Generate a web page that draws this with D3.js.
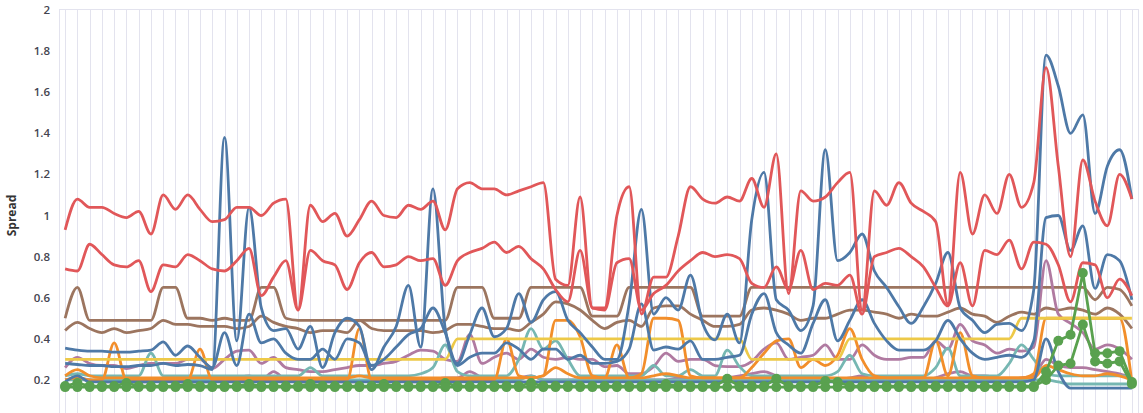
<!DOCTYPE html>
<html lang="en">
<head>
<meta charset="utf-8">
<script src="https://d3js.org/d3.v7.min.js"></script>
<style>
  html, body { margin: 0; padding: 0; background: #fff; }
  svg { display: block; font-family: "Open Sans", sans-serif; }
  .tick-label { font-size: 11.5px; font-weight: 600; fill: #44444f; }
  .y-title { font-size: 12px; font-weight: 700; fill: #333; }
</style>
</head>
<body>
<script>
// 88 time slots, no labels shown on the x axis
var categories = d3.range(88);

var yTicks = [0.2, 0.4, 0.6, 0.8, 1, 1.2, 1.4, 1.6, 1.8, 2];
var yTickLabels = ["0.2", "0.4", "0.6", "0.8", "1", "1.2", "1.4", "1.6", "1.8", "2"];

var red1 = [
  0.93,1.08,1.04,1.04,1.01,0.99,1.02,0.91,1.10,1.03,
  1.10,1.03,0.97,0.98,1.04,1.04,1.00,1.06,1.08,0.54,
  1.05,0.97,1.01,0.90,0.98,1.07,1.00,0.99,1.05,1.03,
  1.07,0.93,1.13,1.16,1.13,1.13,1.10,1.12,1.14,1.16,
  0.69,0.66,1.09,0.55,0.55,1.00,1.14,0.52,0.70,0.70,
  0.90,1.14,1.08,1.06,1.09,1.07,1.18,1.04,1.30,0.62,
  1.12,1.07,1.09,1.16,1.21,0.54,1.12,1.05,1.16,1.06,
  1.02,0.97,0.57,1.21,0.91,1.10,1.01,1.20,1.04,1.16,
  1.72,1.24,0.80,1.27,1.07,0.95,1.20,1.08];
var red2 = [
  0.74,0.73,0.86,0.81,0.76,0.75,0.78,0.63,0.76,0.75,
  0.81,0.78,0.74,0.73,0.78,0.84,0.61,0.70,0.78,0.54,
  0.83,0.78,0.76,0.64,0.77,0.82,0.75,0.76,0.80,0.78,
  0.79,0.66,0.78,0.82,0.84,0.87,0.82,0.85,0.79,0.74,
  0.64,0.58,0.83,0.55,0.54,0.77,0.79,0.54,0.62,0.66,
  0.73,0.78,0.82,0.80,0.81,0.79,0.67,0.65,0.75,0.64,
  0.83,0.64,0.67,0.66,0.71,0.52,0.80,0.82,0.84,0.80,
  0.75,0.65,0.56,0.77,0.56,0.83,0.81,0.88,0.74,0.87,
  0.86,0.76,0.58,0.77,0.76,0.60,0.69,0.61];
var brown1 = [
  0.50,0.65,0.49,0.49,0.49,0.49,0.49,0.49,0.65,0.65,
  0.50,0.50,0.49,0.50,0.49,0.49,0.65,0.65,0.50,0.49,
  0.49,0.49,0.49,0.49,0.49,0.49,0.49,0.49,0.49,0.49,
  0.49,0.49,0.65,0.65,0.65,0.50,0.50,0.50,0.65,0.65,
  0.65,0.65,0.65,0.51,0.51,0.51,0.65,0.65,0.65,0.65,
  0.65,0.65,0.51,0.51,0.51,0.51,0.65,0.65,0.65,0.65,
  0.65,0.65,0.65,0.65,0.65,0.65,0.65,0.65,0.65,0.65,
  0.65,0.65,0.65,0.65,0.65,0.65,0.65,0.65,0.65,0.65,
  0.65,0.65,0.65,0.65,0.59,0.65,0.64,0.56];
var brown2 = [
  0.44,0.48,0.45,0.43,0.45,0.43,0.44,0.45,0.49,0.47,
  0.47,0.46,0.46,0.46,0.45,0.46,0.51,0.48,0.46,0.45,
  0.43,0.44,0.44,0.43,0.49,0.45,0.44,0.44,0.44,0.44,
  0.43,0.44,0.47,0.47,0.46,0.45,0.45,0.44,0.48,0.52,
  0.58,0.57,0.54,0.49,0.45,0.48,0.49,0.46,0.55,0.56,
  0.56,0.52,0.49,0.46,0.46,0.47,0.54,0.55,0.54,0.52,
  0.49,0.50,0.50,0.52,0.54,0.54,0.53,0.52,0.50,0.52,
  0.51,0.51,0.53,0.55,0.52,0.51,0.48,0.51,0.53,0.52,
  0.55,0.54,0.55,0.54,0.52,0.55,0.52,0.45];
var yellow = [
  0.30,0.30,0.30,0.30,0.30,0.30,0.30,0.30,0.30,0.30,
  0.30,0.30,0.30,0.30,0.30,0.30,0.30,0.30,0.30,0.30,
  0.30,0.30,0.30,0.30,0.30,0.30,0.30,0.30,0.30,0.30,
  0.30,0.30,0.40,0.40,0.40,0.40,0.40,0.40,0.40,0.40,
  0.40,0.40,0.40,0.40,0.40,0.40,0.40,0.40,0.40,0.40,
  0.40,0.40,0.40,0.40,0.40,0.40,0.30,0.30,0.30,0.30,
  0.30,0.30,0.30,0.30,0.40,0.40,0.40,0.40,0.40,0.40,
  0.40,0.40,0.40,0.40,0.40,0.40,0.40,0.40,0.50,0.50,
  0.50,0.50,0.50,0.50,0.50,0.50,0.50,0.50];
var blue1 = [
  0.28,0.275,0.27,0.27,0.265,0.265,0.27,0.27,0.28,0.27,
  0.275,0.27,0.25,1.38,0.39,1.04,0.55,0.44,0.45,0.35,
  0.46,0.26,0.43,0.50,0.46,0.25,0.36,0.46,0.66,0.36,
  1.13,0.45,0.28,0.42,0.55,0.41,0.45,0.62,0.48,0.59,
  0.63,0.49,0.43,0.36,0.30,0.30,0.57,1.03,0.52,0.60,
  0.54,0.71,0.475,0.395,0.52,0.38,0.98,1.21,0.59,0.54,
  0.44,0.56,1.32,0.78,0.82,0.91,0.73,0.65,0.556,0.475,
  0.556,0.67,0.82,0.55,0.49,0.43,0.47,0.475,0.44,0.64,
  1.78,1.63,1.40,1.49,1.01,1.24,1.32,1.08];
var blue2 = [
  0.355,0.345,0.34,0.34,0.335,0.335,0.34,0.345,0.385,0.32,
  0.365,0.31,0.26,0.43,0.27,0.52,0.38,0.40,0.33,0.30,
  0.30,0.35,0.30,0.40,0.38,0.27,0.30,0.36,0.42,0.45,
  0.55,0.43,0.27,0.31,0.33,0.33,0.38,0.35,0.30,0.35,
  0.35,0.30,0.32,0.28,0.28,0.29,0.35,0.57,0.345,0.36,
  0.35,0.39,0.30,0.30,0.31,0.32,0.52,0.62,0.43,0.37,
  0.33,0.475,0.59,0.39,0.49,0.59,0.475,0.39,0.345,0.345,
  0.345,0.39,0.49,0.40,0.33,0.30,0.31,0.32,0.31,0.39,
  0.99,1.00,0.83,0.95,0.645,0.81,0.78,0.59];
var blue3 = [
  0.19,0.22,0.19,0.19,0.19,0.19,0.19,0.19,0.19,0.19,
  0.19,0.19,0.19,0.19,0.19,0.19,0.19,0.19,0.19,0.19,
  0.19,0.19,0.19,0.19,0.19,0.19,0.19,0.19,0.19,0.19,
  0.19,0.19,0.19,0.19,0.19,0.19,0.19,0.19,0.19,0.19,
  0.19,0.19,0.19,0.19,0.19,0.19,0.19,0.19,0.19,0.19,
  0.19,0.19,0.19,0.19,0.19,0.19,0.19,0.19,0.19,0.19,
  0.19,0.19,0.19,0.19,0.19,0.19,0.19,0.19,0.19,0.19,
  0.19,0.19,0.19,0.19,0.19,0.19,0.19,0.19,0.19,0.20,
  0.40,0.24,0.16,0.16,0.16,0.16,0.16,0.16];
var orange1 = [
  0.22,0.25,0.22,0.21,0.21,0.21,0.21,0.21,0.21,0.21,
  0.21,0.21,0.21,0.21,0.21,0.21,0.21,0.21,0.21,0.21,
  0.21,0.21,0.21,0.21,0.22,0.21,0.21,0.21,0.21,0.21,
  0.21,0.21,0.21,0.21,0.21,0.21,0.21,0.21,0.21,0.22,
  0.26,0.23,0.21,0.21,0.21,0.21,0.21,0.21,0.22,0.23,
  0.22,0.21,0.21,0.21,0.21,0.21,0.21,0.21,0.21,0.21,
  0.21,0.21,0.21,0.21,0.21,0.21,0.21,0.21,0.21,0.21,
  0.21,0.21,0.21,0.21,0.21,0.21,0.21,0.21,0.21,0.21,
  0.27,0.25,0.23,0.22,0.22,0.23,0.22,0.20];
var orange2 = [
  0.20,0.21,0.20,0.20,0.38,0.20,0.20,0.20,0.20,0.20,
  0.20,0.35,0.20,0.20,0.20,0.20,0.20,0.20,0.20,0.20,
  0.20,0.20,0.20,0.20,0.45,0.20,0.20,0.20,0.20,0.20,
  0.20,0.20,0.20,0.20,0.20,0.20,0.40,0.22,0.21,0.22,
  0.49,0.49,0.41,0.22,0.21,0.37,0.21,0.23,0.50,0.50,
  0.49,0.22,0.21,0.21,0.21,0.21,0.26,0.33,0.39,0.40,
  0.26,0.30,0.27,0.32,0.45,0.30,0.22,0.21,0.21,0.21,
  0.21,0.39,0.22,0.43,0.22,0.21,0.21,0.21,0.21,0.23,
  0.50,0.50,0.50,0.50,0.50,0.50,0.50,0.19];
var purple1 = [
  0.26,0.31,0.28,0.27,0.27,0.255,0.27,0.28,0.28,0.28,
  0.30,0.30,0.256,0.30,0.34,0.345,0.28,0.31,0.26,0.25,
  0.24,0.24,0.25,0.26,0.27,0.27,0.28,0.29,0.32,0.345,
  0.34,0.30,0.29,0.42,0.28,0.31,0.33,0.30,0.35,0.31,
  0.30,0.31,0.30,0.30,0.265,0.27,0.23,0.23,0.265,0.33,
  0.29,0.30,0.30,0.27,0.265,0.265,0.29,0.35,0.38,0.30,
  0.31,0.32,0.37,0.30,0.30,0.37,0.32,0.30,0.30,0.31,
  0.31,0.39,0.35,0.47,0.39,0.37,0.33,0.35,0.34,0.36,
  0.78,0.52,0.475,0.43,0.35,0.37,0.35,0.30];
var purple2 = [
  0.20,0.21,0.20,0.19,0.19,0.19,0.19,0.19,0.20,0.19,
  0.19,0.19,0.19,0.20,0.21,0.22,0.20,0.24,0.20,0.19,
  0.19,0.19,0.19,0.19,0.19,0.20,0.20,0.20,0.19,0.19,
  0.20,0.21,0.21,0.24,0.21,0.20,0.20,0.21,0.22,0.20,
  0.20,0.20,0.20,0.20,0.20,0.20,0.20,0.20,0.20,0.20,
  0.21,0.20,0.20,0.20,0.21,0.22,0.23,0.24,0.22,0.21,
  0.20,0.20,0.21,0.20,0.21,0.22,0.20,0.20,0.20,0.20,
  0.20,0.21,0.23,0.24,0.22,0.22,0.21,0.20,0.21,0.22,
  0.30,0.27,0.26,0.26,0.25,0.24,0.23,0.21];
var teal1 = [
  0.22,0.23,0.22,0.22,0.22,0.22,0.22,0.33,0.22,0.22,
  0.22,0.22,0.22,0.22,0.22,0.22,0.22,0.22,0.22,0.22,
  0.26,0.22,0.22,0.22,0.22,0.22,0.22,0.22,0.22,0.23,
  0.26,0.37,0.24,0.22,0.22,0.22,0.22,0.30,0.45,0.35,
  0.39,0.30,0.22,0.22,0.22,0.22,0.22,0.22,0.27,0.22,
  0.22,0.25,0.22,0.22,0.345,0.265,0.22,0.22,0.22,0.22,
  0.22,0.22,0.22,0.24,0.32,0.23,0.22,0.22,0.22,0.22,
  0.22,0.26,0.355,0.22,0.22,0.22,0.22,0.28,0.37,0.30,
  0.23,0.22,0.22,0.22,0.22,0.22,0.22,0.215];
var teal2 = [
  0.20,0.20,0.20,0.20,0.20,0.20,0.20,0.20,0.20,0.20,
  0.20,0.20,0.20,0.20,0.20,0.20,0.20,0.20,0.20,0.20,
  0.20,0.20,0.20,0.20,0.20,0.20,0.20,0.20,0.20,0.20,
  0.20,0.20,0.20,0.20,0.20,0.20,0.20,0.20,0.22,0.20,
  0.20,0.20,0.20,0.20,0.20,0.20,0.20,0.20,0.20,0.20,
  0.20,0.20,0.20,0.20,0.20,0.20,0.20,0.20,0.20,0.20,
  0.20,0.20,0.20,0.20,0.20,0.20,0.20,0.20,0.20,0.20,
  0.20,0.20,0.20,0.20,0.20,0.20,0.20,0.20,0.20,0.20,
  0.20,0.19,0.18,0.18,0.18,0.18,0.18,0.18];
var green1 = [
  0.165,0.165,0.165,0.165,0.165,0.165,0.165,0.165,0.165,0.165,
  0.165,0.165,0.165,0.165,0.165,0.165,0.165,0.165,0.165,0.165,
  0.165,0.165,0.165,0.165,0.165,0.165,0.165,0.165,0.165,0.165,
  0.165,0.165,0.165,0.165,0.165,0.165,0.165,0.165,0.165,0.165,
  0.165,0.165,0.165,0.165,0.165,0.165,0.165,0.165,0.165,0.165,
  0.165,0.165,0.165,0.165,0.165,0.165,0.165,0.165,0.165,0.165,
  0.165,0.165,0.165,0.165,0.165,0.165,0.165,0.165,0.165,0.165,
  0.165,0.165,0.165,0.165,0.165,0.165,0.165,0.165,0.165,0.165,
  0.24,0.39,0.42,0.72,0.33,0.33,0.34,0.19];
var green2 = [
  0.17,0.185,0.17,0.17,0.17,0.185,0.17,0.17,0.17,0.17,
  0.18,0.17,0.17,0.17,0.17,0.18,0.17,0.17,0.17,0.17,
  0.18,0.17,0.17,0.17,0.17,0.17,0.18,0.17,0.17,0.17,
  0.17,0.185,0.17,0.17,0.17,0.17,0.17,0.17,0.185,0.17,
  0.17,0.17,0.17,0.17,0.17,0.17,0.17,0.17,0.17,0.18,
  0.17,0.17,0.17,0.17,0.205,0.17,0.17,0.17,0.205,0.17,
  0.17,0.17,0.195,0.19,0.17,0.17,0.17,0.17,0.17,0.17,
  0.17,0.17,0.17,0.17,0.17,0.17,0.17,0.17,0.17,0.17,
  0.20,0.27,0.28,0.47,0.29,0.28,0.29,0.18];

var W = 1143, H = 413;
var plotLeft = 59, plotRight = 1138, plotTop = 10, plotBottom = 413;

var svg = d3.select("body").append("svg")
    .attr("width", W)
    .attr("height", H);

var x = d3.scalePoint()
    .domain(categories)
    .range([plotLeft, plotRight])
    .padding(0.5);

// 0 sits just below the visible area, 2 at the top border
var y = d3.scaleLinear()
    .domain([0, 2])
    .range([421, plotTop]);

svg.append("defs").append("clipPath")
    .attr("id", "plotclip")
  .append("rect")
    .attr("x", plotLeft)
    .attr("y", 0)
    .attr("width", plotRight - plotLeft)
    .attr("height", plotBottom);

// vertical gridlines, one per slot
var grid = svg.append("g").attr("stroke", "#e3e3ee").attr("stroke-width", 1);
grid.selectAll("line.v")
    .data(categories)
    .enter().append("line")
    .attr("class", "v")
    .attr("x1", function(d) { return Math.round(x(d)) + 0.5; })
    .attr("x2", function(d) { return Math.round(x(d)) + 0.5; })
    .attr("y1", plotTop)
    .attr("y2", plotBottom);
grid.append("line")
    .attr("x1", plotLeft + 0.5).attr("x2", plotLeft + 0.5)
    .attr("y1", plotTop).attr("y2", plotBottom);
grid.append("line")
    .attr("x1", plotRight + 0.5).attr("x2", plotRight + 0.5)
    .attr("y1", plotTop).attr("y2", plotBottom);
grid.append("line")
    .attr("x1", plotLeft).attr("x2", plotRight + 1)
    .attr("y1", Math.round(y(2)) - 0.5).attr("y2", Math.round(y(2)) - 0.5);

// y tick labels
svg.append("g").selectAll("text")
    .data(yTicks)
    .enter().append("text")
    .attr("class", "tick-label")
    .attr("x", 50)
    .attr("y", function(d) { return y(d); })
    .attr("dy", "0.35em")
    .attr("text-anchor", "end")
    .text(function(d, i) { return yTickLabels[i]; });

svg.append("text")
    .attr("class", "y-title")
    .attr("transform", "translate(16," + y(1) + ") rotate(-90)")
    .attr("text-anchor", "middle")
    .text("Spread");

var series = [
  {values: brown1, color: "#9c755f"},
  {values: brown2, color: "#9c755f"},
  {values: purple2, color: "#b07aa1"},
  {values: purple1, color: "#b07aa1"},
  {values: teal2, color: "#76b7b2"},
  {values: teal1, color: "#76b7b2"},
  {values: orange1, color: "#f28e2b"},
  {values: orange2, color: "#f28e2b"},
  {values: yellow, color: "#edc948"},
  {values: blue3, color: "#4e79a7"},
  {values: blue2, color: "#4e79a7"},
  {values: blue1, color: "#4e79a7"},
  {values: red2, color: "#e15759"},
  {values: red1, color: "#e15759"}
];

var plot = svg.append("g").attr("clip-path", "url(#plotclip)");

var smooth = d3.line()
    .x(function(d, i) { return x(categories[i]); })
    .y(function(d) { return y(d); })
    .curve(d3.curveMonotoneX);

plot.selectAll("path.s")
    .data(series)
    .enter().append("path")
    .attr("class", "s")
    .attr("d", function(s) { return smooth(s.values); })
    .attr("fill", "none")
    .attr("stroke", function(s) { return s.color; })
    .attr("stroke-width", 2.8)
    .attr("stroke-linejoin", "round");

// the two marker series are straight segments with dots
var straight = d3.line()
    .x(function(d, i) { return x(categories[i]); })
    .y(function(d) { return y(d); });

[green2, green1].forEach(function(vals) {
  plot.append("path")
      .attr("d", straight(vals))
      .attr("fill", "none")
      .attr("stroke", "#59a14f")
      .attr("stroke-width", 2.8);
  plot.append("g").selectAll("circle")
      .data(vals)
      .enter().append("circle")
      .attr("cx", function(d, i) { return x(categories[i]); })
      .attr("cy", function(d) { return y(d); })
      .attr("r", 5)
      .attr("fill", "#59a14f");
});
</script>
</body>
</html>
